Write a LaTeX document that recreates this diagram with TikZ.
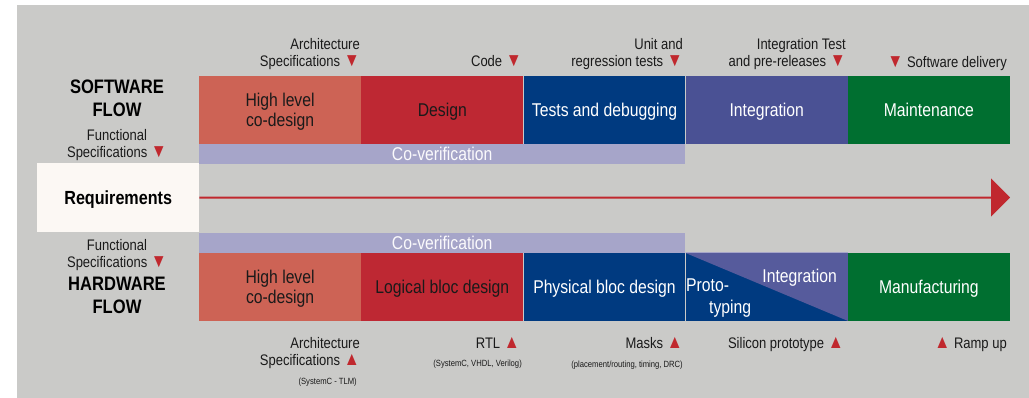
\documentclass[tikz,border=0pt]{standalone}
\usepackage{fontspec}
\setmainfont{Liberation Sans}[FakeStretch=0.85]
\usetikzlibrary{positioning,arrows.meta}

\definecolor{bgcol}{RGB}{202,202,200}
\definecolor{reqcol}{RGB}{252,248,244}
\definecolor{hlcol}{RGB}{205,99,85}
\definecolor{descol}{RGB}{190,40,51}
\definecolor{tstcol}{RGB}{0,58,128}
\definecolor{intcol}{RGB}{74,81,148}
\definecolor{hwintcol}{RGB}{86,91,156}
\definecolor{maincol}{RGB}{0,111,48}
\definecolor{covcol}{RGB}{166,165,201}
\definecolor{mred}{RGB}{192,40,46}
\definecolor{txtcol}{RGB}{26,26,26}

\newcommand*{\dnmark}{\textcolor{mred}{\fontsize{19}{10}\selectfont ▼}}
\newcommand*{\upmark}{\textcolor{mred}{\fontsize{19}{10}\selectfont ▲}}

\tikzset{
  block/.style={minimum width=161.8, minimum height=67.5, inner sep=0, align=center,
    text depth=0, font=\fontsize{18.5}{20}\selectfont},
  darkblock/.style={block, text=txtcol},
  lightblock/.style={block, text=white},
  cover/.style={fill=covcol, minimum width=486, minimum height=20, inner sep=0,
    text=white!95!covcol, font=\fontsize{18.5}{20}\selectfont},
  milestone/.style={inner sep=0, align=right, text=txtcol, text depth=3,
    font=\fontsize{15.3}{17}\selectfont},
  note/.style={inner sep=0, align=right, text=txtcol, text depth=2,
    font=\fontsize{9}{10}\selectfont},
  flowlbl/.style={inner sep=0, align=center, text=black, text depth=0,
    font=\fontsize{19.5}{23.5}\selectfont\bfseries},
  reqarrow/.style={mred, line width=2, -{Triangle[length=19pt,width=38pt]}}
}

\begin{document}
\begin{tikzpicture}[x=1pt,y=-1pt]

\useasboundingbox (0,0) rectangle (1029,398);
\fill[white] (0,0) rectangle (1029,398);
\fill[bgcol] (17,5) rectangle (1029,398);

%software flow
\node[darkblock, fill=hlcol, anchor=north west] (swhl) at (199,76) {High level\\co-design};
\node[darkblock, fill=descol, right=0pt of swhl] (swdes) {Design};
\node[lightblock, fill=tstcol, right=0pt of swdes] (swtst) {Tests and debugging};
\node[lightblock, fill=intcol, right=0pt of swtst] (swint) {Integration};
\node[lightblock, fill=maincol, right=0pt of swint] (swmain) {Maintenance};
\node[cover, anchor=north west] (swcov) at (swhl.south west) {Co-verification};

\node[flowlbl, anchor=south] (swflow) at (117,117) {SOFTWARE\\FLOW};
\node[milestone, align=center, anchor=south] (swfunc) at (117,161) {Functional\\Specifications \dnmark};

\node[milestone, anchor=south east] (swarch) at (360,69.5) {Architecture\\Specifications \dnmark};
\node[milestone, anchor=south east] (swcode) at (522,69.5) {Code \dnmark};
\node[milestone, anchor=south east] (swunit) at (683,69.5) {Unit and\\regression tests \dnmark};
\node[milestone, anchor=south east] (switest) at (846,69.5) {Integration Test\\and pre-releases \dnmark};
\node[milestone, anchor=south east] (swdeliv) at (1007,70.5) {\dnmark{} Software delivery};

%requirements
\node[fill=reqcol, minimum width=162, minimum height=69, inner sep=0, anchor=north west,
  text depth=0, font=\fontsize{19}{20}\selectfont\bfseries] (req) at (37,163) {Requirements};
\coordinate (reqend) at (1010,197.5);
\draw[reqarrow] (req.east) -- (reqend);

%hardware flow
\node[darkblock, fill=hlcol, anchor=north west] (hwhl) at (199,253) {High level\\co-design};
\node[darkblock, fill=descol, right=0pt of hwhl] (hwlog) {Logical bloc design};
\node[lightblock, fill=tstcol, right=0pt of hwlog] (hwphys) {Physical bloc design};
\node[lightblock, fill=tstcol, right=0pt of hwphys] (hwproto) {};
\node[lightblock, fill=maincol, right=0pt of hwproto] (hwman) {Manufacturing};
\node[cover, anchor=south west] (hwcov) at (hwhl.north west) {Co-verification};

\fill[hwintcol] (hwproto.north west) -- (hwproto.north east) -- (hwproto.south east) -- cycle;
\draw[covcol, line width=1] (hwproto.north west) -- (hwproto.north east);
\node[lightblock, minimum width=0, minimum height=0, anchor=base west] (hwprotoa) at (686,292) {Proto-};
\node[lightblock, minimum width=0, minimum height=0, anchor=base west] (hwprotob) at (709,313) {typing};
\node[lightblock, minimum width=0, minimum height=0, anchor=base east] (hwintl) at (837,283) {Integration};

\node[milestone, align=center, anchor=south] (hwfunc) at (117,271) {Functional\\Specifications \dnmark};
\node[flowlbl, anchor=south] (hwflow) at (117,314) {HARDWARE\\FLOW};

\node[milestone, anchor=south east] (hwarch) at (360,369) {Architecture\\Specifications \upmark};
\node[note, anchor=south east] (hwtlm) at (357,387) {(SystemC - TLM)};
\node[milestone, anchor=south east] (hwrtl) at (520,352) {RTL \upmark};
\node[note, anchor=south east] (hwhdl) at (522,369) {(SystemC, VHDL, Verilog)};
\node[milestone, anchor=south east] (hwmask) at (683,352) {Masks \upmark};
\node[note, anchor=south east] (hwdrc) at (683,370) {(placement/routing, timing, DRC)};
\node[milestone, anchor=south east] (hwsil) at (844,352) {Silicon prototype \upmark};
\node[milestone, anchor=south east] (hwramp) at (1007,352) {\upmark{} Ramp up};

\end{tikzpicture}
\end{document}
